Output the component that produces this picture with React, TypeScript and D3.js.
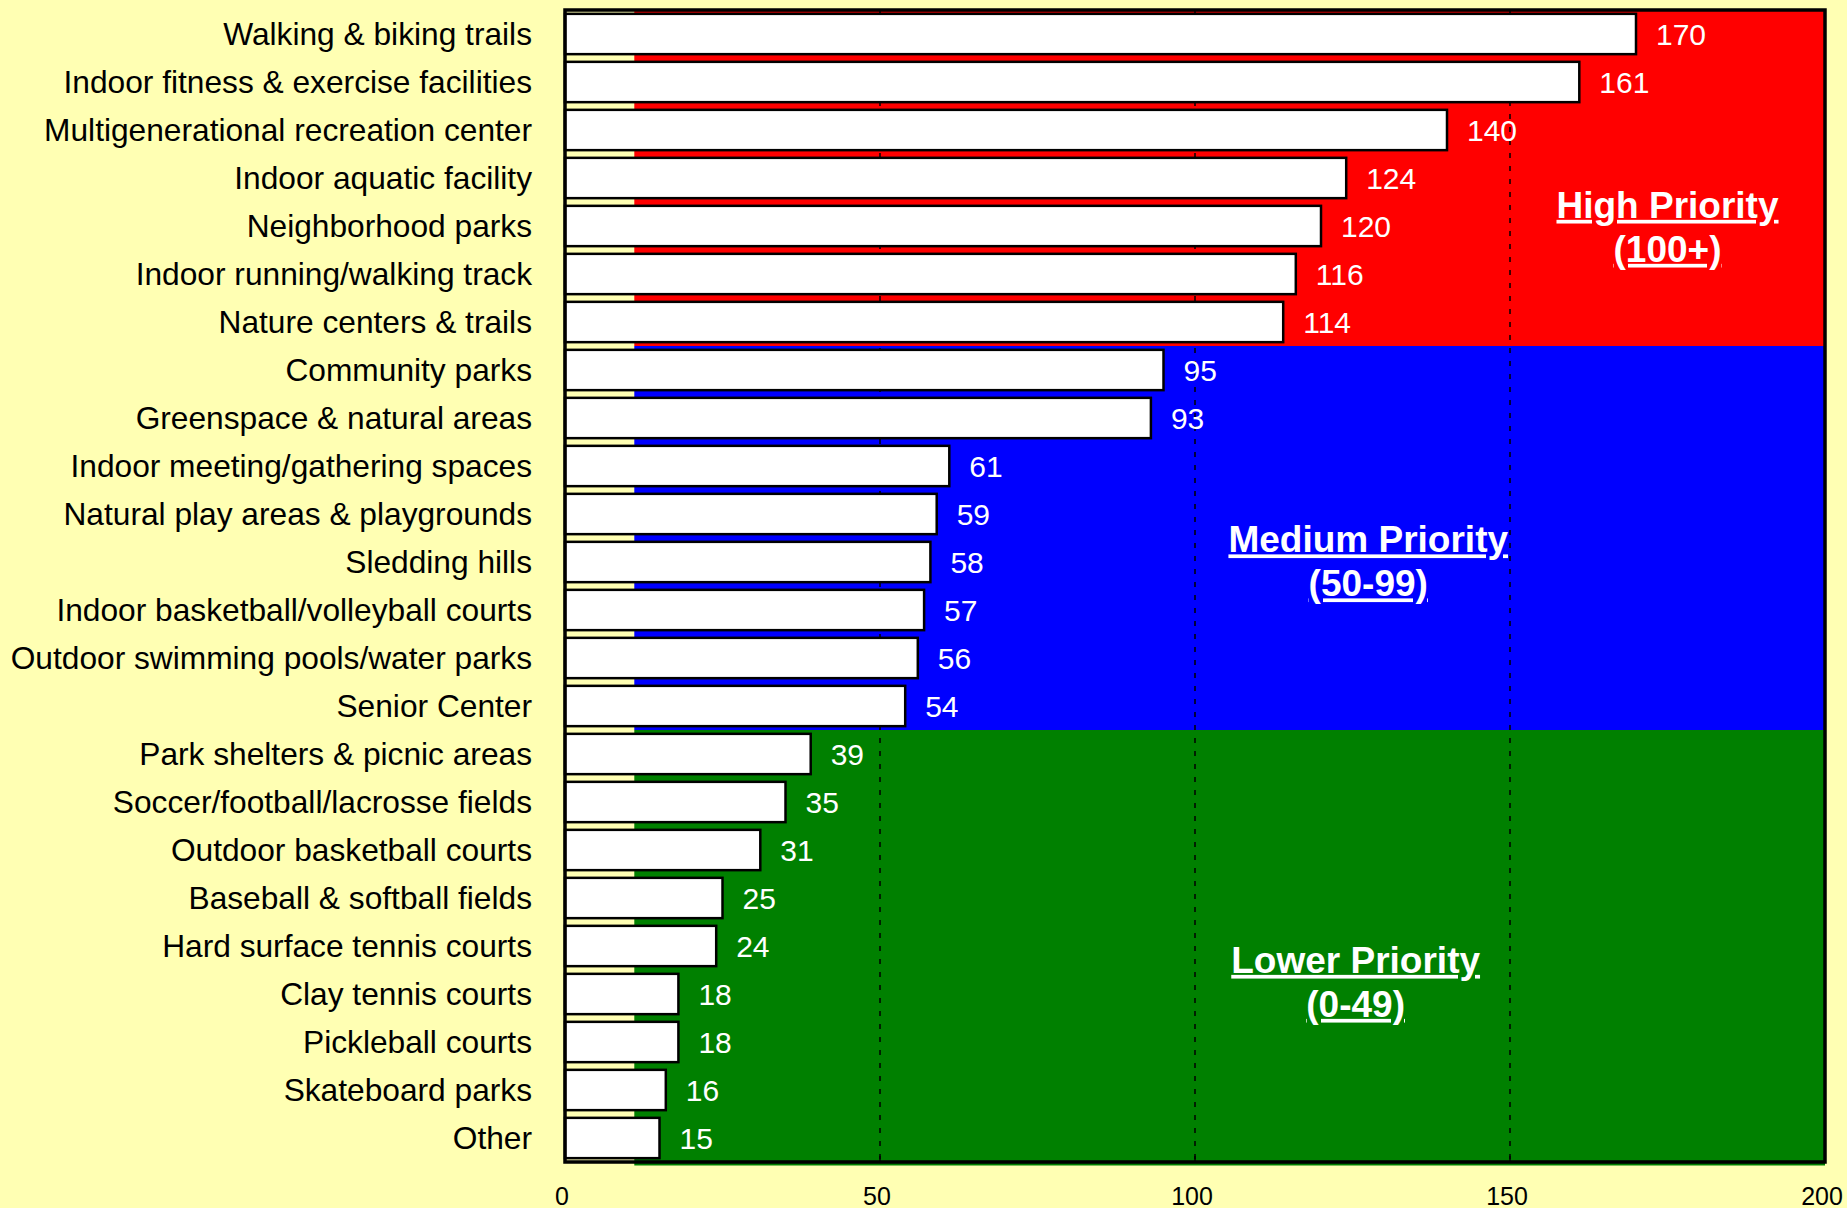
import React from "react";
import * as d3 from "d3";

const categories = [
  "Walking & biking trails",
  "Indoor fitness & exercise facilities",
  "Multigenerational recreation center",
  "Indoor aquatic facility",
  "Neighborhood parks",
  "Indoor running/walking track",
  "Nature centers & trails",
  "Community parks",
  "Greenspace & natural areas",
  "Indoor meeting/gathering spaces",
  "Natural play areas & playgrounds",
  "Sledding hills",
  "Indoor basketball/volleyball courts",
  "Outdoor swimming pools/water parks",
  "Senior Center",
  "Park shelters & picnic areas",
  "Soccer/football/lacrosse fields",
  "Outdoor basketball courts",
  "Baseball & softball fields",
  "Hard surface tennis courts",
  "Clay tennis courts",
  "Pickleball courts",
  "Skateboard parks",
  "Other",
];

const values = [170, 161, 140, 124, 120, 116, 114, 95, 93, 61, 59, 58, 57, 56, 54, 39, 35, 31, 25, 24, 18, 18, 16, 15];

const xTicks = [0, 50, 100, 150, 200];
const gridValues = [50, 100, 150];

const priorityNames = ["High Priority", "Medium Priority", "Lower Priority"];
const priorityRanges = ["(100+)", "(50-99)", "(0-49)"];
const priorityMin = [100, 50, 0];
const priorityMax = [Infinity, 100, 50];
const priorityColors = ["#FF0000", "#0000FF", "#008000"];
const bandStartValue = 11;

// label anchor positions (value, row) – layout only
const labelX = [175, 127.5, 125.5];
const labelRow = [4.33, 11.3, 20.06];

const W = 1847;
const H = 1208;
const BG = "#FFFFB3";
const FONT = "Arial, 'Liberation Sans', Helvetica, sans-serif";

export default function App() {
  const left = 565;
  const right = 1825;
  const top = 10;
  const bottom = 1162;

  const x = d3.scaleLinear().domain([0, 200]).range([left, right]);
  const rowScale = d3.scaleLinear().domain([0, categories.length]).range([top, bottom]);
  const y = d3
    .scaleBand<string>()
    .domain(categories)
    .range([top, bottom])
    .paddingInner(0.16)
    .paddingOuter(0.08);

  const groups = priorityNames.map((name, g) => {
    const idx = values
      .map((v, i) => ({ v, i }))
      .filter((d) => d.v >= priorityMin[g] && d.v < priorityMax[g])
      .map((d) => d.i);
    const first = d3.min(idx) as number;
    const last = d3.max(idx) as number;
    return { name, range: priorityRanges[g], color: priorityColors[g], first, last, g };
  });

  return (
    <svg
      width={W}
      height={H}
      style={{ position: "absolute", left: 0, top: 0, display: "block" }}
      fontFamily={FONT}
    >
      <rect x={0} y={0} width={W} height={H} fill={BG} />
      {groups.map((gr) => (
        <rect
          key={gr.name}
          x={x(bandStartValue)}
          y={rowScale(gr.first)}
          width={x(200) - x(bandStartValue)}
          height={rowScale(gr.last + 1) - rowScale(gr.first) + (gr.g === 2 ? 3.5 : 0)}
          fill={gr.color}
        />
      ))}
      {gridValues.map((v) => (
        <line
          key={v}
          x1={x(v)}
          x2={x(v)}
          y1={top}
          y2={bottom}
          stroke="#000"
          strokeWidth={1.5}
          strokeDasharray="5,8"
        />
      ))}
      {gridValues.map((v) => (
        <line key={"t" + v} x1={x(v)} x2={x(v)} y1={bottom - 6} y2={bottom} stroke="#000" strokeWidth={1.5} />
      ))}
      {categories.map((c, i) => (
        <g key={c}>
          <rect
            x={x(0)}
            y={y(c)}
            width={x(values[i]) - x(0)}
            height={y.bandwidth()}
            fill="#fff"
            stroke="#000"
            strokeWidth={2.5}
          />
          <text
            x={left - 33}
            y={(y(c) as number) + y.bandwidth() / 2}
            dy="0.36em"
            textAnchor="end"
            fontSize={31.7}
            fill="#000"
          >
            {c}
          </text>
          <text
            x={x(values[i]) + 20}
            y={(y(c) as number) + y.bandwidth() / 2}
            dy="0.36em"
            fontSize={30}
            fill="#fff"
          >
            {values[i]}
          </text>
        </g>
      ))}
      <rect x={left} y={top} width={right - left} height={bottom - top} fill="none" stroke="#000" strokeWidth={3.5} />
      {xTicks.map((t) => (
        <text key={t} x={x(t) - 3} y={1205} textAnchor="middle" fontSize={25} fill="#000">
          {t}
        </text>
      ))}
      {groups.map((gr, g) => {
        const cx = x(labelX[g]);
        const by = rowScale(labelRow[g]);
        return (
          <g key={"lbl" + gr.name} fill="#fff" fontWeight="bold" fontSize={37} textAnchor="middle">
            <text x={cx} y={by} textDecoration="underline">
              {gr.name}
            </text>
            <text x={cx} y={by + 44} textDecoration="underline">
              {gr.range}
            </text>
          </g>
        );
      })}
    </svg>
  );
}
